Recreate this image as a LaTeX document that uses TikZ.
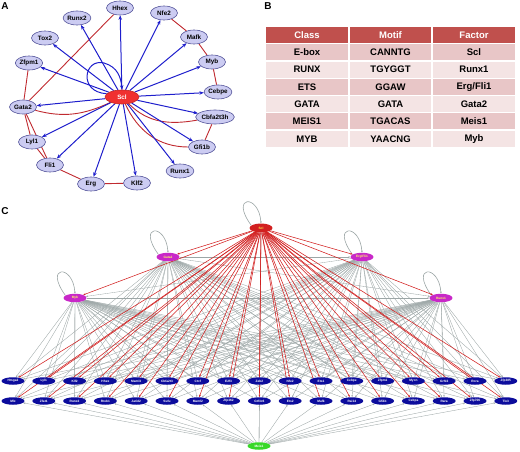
\documentclass[tikz,border=0pt]{standalone}
\usepackage{fontspec}
\setmainfont{Liberation Sans}
\usetikzlibrary{shapes.geometric,arrows.meta,backgrounds}

\definecolor{anodefill}{HTML}{CCCCF2}
\definecolor{anodeline}{HTML}{55559A}
\definecolor{ablue}{HTML}{1E1ECC}
\definecolor{ared}{HTML}{C02A30}
\definecolor{sclred}{HTML}{F03030}
\definecolor{headred}{HTML}{C0504D}
\definecolor{rowdark}{HTML}{E8C6C7}
\definecolor{rowlight}{HTML}{F4E4E4}
\definecolor{cblue}{HTML}{0C0C9C}
\definecolor{cmagenta}{HTML}{C828C8}
\definecolor{cgreen}{HTML}{38D828}
\definecolor{cred}{HTML}{D22020}
\definecolor{cgray}{HTML}{9CA6A6}

\tikzset{
  panel/.style={font=\fontsize{10}{12}\selectfont\bfseries, inner sep=0pt},
  anode/.style={ellipse, draw=anodeline, fill=anodefill, line width=0.6pt,
    minimum width=27pt, minimum height=14pt, inner sep=0.2pt,
    font=\fontsize{6.3}{7}\selectfont\bfseries},
  aedge/.style={ablue, line width=1pt, -{Stealth[length=4.5pt,width=3.5pt]}},
  apair/.style={ared, line width=0.9pt},
  cell/.style={minimum width=81.5pt, minimum height=16pt, inner sep=0pt,
    font=\fontsize{9.5}{11}\selectfont\bfseries},
  cnode/.style={ellipse, fill=cblue, text=white, minimum width=23pt,
    minimum height=7.5pt, inner sep=0pt, font=\fontsize{3.2}{4}\selectfont\bfseries},
  ctier/.style={cnode, fill=cmagenta, text=yellow!60, minimum height=8.5pt},
  cgrayedge/.style={cgray, line width=0.35pt, -{Stealth[length=2pt,width=1.6pt]}},
  crededge/.style={cred, line width=0.55pt, -{Stealth[length=2.4pt,width=1.8pt]}},
}

\begin{document}
\begin{tikzpicture}[x=1pt, y=-1pt]
  \useasboundingbox (0,0) rectangle (520,452);

  % panel labels
  \node[panel] (lab-a) at (5,6) {A};
  \node[panel] (lab-b) at (268,6) {B};
  \node[panel] (lab-c) at (5,211) {C};

  % ---- A: Scl network
  \node[anode, fill=sclred, draw=sclred!80!black, text=white, minimum width=34pt] (a-scl) at (122,97) {Scl};
  \node[anode] (a-hhex) at (120,8) {Hhex};
  \node[anode] (a-runx2) at (77,18) {Runx2};
  \node[anode] (a-nfe2) at (164,13) {Nfe2};
  \node[anode] (a-tox2) at (45,38) {Tox2};
  \node[anode] (a-mafk) at (194,37) {Mafk};
  \node[anode] (a-zfpm1) at (29,63) {Zfpm1};
  \node[anode] (a-myb) at (212,62) {Myb};
  \node[anode] (a-cebpe) at (218,92) {Cebpe};
  \node[anode] (a-gata2) at (23,107) {Gata2};
  \node[anode] (a-cbfa) at (215,117) {Cbfa2t3h};
  \node[anode] (a-lyl1) at (32,142) {Lyl1};
  \node[anode] (a-gfi1b) at (202,147) {Gfi1b};
  \node[anode] (a-fli1) at (50,165) {Fli1};
  \node[anode] (a-runx1) at (180,171) {Runx1};
  \node[anode] (a-erg) at (91,184) {Erg};
  \node[anode] (a-klf2) at (137,183) {Klf2};

  \begin{pgfonlayer}{background}
    \draw[apair] (a-hhex) -- (a-gata2);
    \draw[apair] (a-nfe2) -- (a-mafk);
    \draw[apair] (a-mafk) -- (a-myb);
    \draw[apair] (a-myb) -- (a-cebpe);
    \draw[apair] (a-zfpm1) -- (a-gata2);
    \draw[apair] (a-gata2) -- (a-lyl1);
    \draw[apair] (a-gata2) -- (a-fli1);
    \draw[apair] (a-lyl1) -- (a-fli1);
    \draw[apair] (a-fli1) -- (a-erg);
    \draw[apair] (a-erg) -- (a-klf2);
    \draw[apair] (a-cbfa) -- (a-gfi1b);
    \draw[apair] (a-gata2) to[out=-15, in=205] (a-scl);
    \draw[apair] (a-scl) to[out=-45, in=190] (a-cbfa);
    \draw[apair] (a-scl) to[out=-65, in=180] (a-gfi1b);
    \foreach \t in {a-hhex,a-runx2,a-nfe2,a-tox2,a-mafk,a-zfpm1,a-myb,a-cebpe,
        a-gata2,a-cbfa,a-lyl1,a-gfi1b,a-fli1,a-runx1,a-erg,a-klf2}
      \draw[aedge] (a-scl) -- (\t);
    \draw[aedge] (a-scl.168) .. controls (78,92) and (84,58) .. (104,63)
      .. controls (118,67) and (121,78) .. (a-scl.north);
  \end{pgfonlayer}

  % ---- B: motif table
  \foreach \c/\x/\lab in {1/307/Class,2/390.5/Motif,3/474/Factor}
    \node[cell, fill=headred, text=white, minimum height=15.5pt] (b-0-\c) at (\x,34.8) {\lab};
  \foreach \r/\y/\rc/\cl/\mo/\fa in {1/52.3/rowdark/E-box/CANNTG/Scl,
      2/69.6/rowlight/RUNX/TGYGGT/Runx1, 3/86.9/rowdark/ETS/GGAW/{Erg/Fli1},
      4/104.2/rowlight/GATA/GATA/Gata2, 5/121.5/rowdark/MEIS1/TGACAS/Meis1,
      6/138.8/rowlight/MYB/YAACNG/Myb} {
    \node[cell, fill=\rc] (b-\r-1) at (307,\y) {\cl};
    \node[cell, fill=\rc] (b-\r-2) at (390.5,\y) {\mo};
    \node[cell, fill=\rc] (b-\r-3) at (474,\y) {\fa};
  }

  % ---- C: hierarchy
  \node[cnode, fill=cred, text=yellow!70, minimum height=9pt] (c-scl) at (261,228) {Scl};
  \node[ctier] (c-gata2) at (168,257) {Gata2};
  \node[ctier] (c-ergfli1) at (362,257) {Erg/Fli1};
  \node[ctier] (c-myb) at (75,298) {Myb};
  \node[ctier] (c-runx1) at (441,298) {Runx1};
  \node[cnode, fill=cgreen] (c-meis1) at (259,446) {Meis1};

  \foreach \lab [count=\i] in {Hmga2,Lyl1,Klf2,Hhex,Maml3,Cbfa2t3,Ctcf,E2f3,Zeb2,
      Nfe2,Ets1,Cebpe,Zfpm1,Mycn,Grhl2,Rora,Zfp385}
    \node[cnode] (c-a\i) at ({13+30.8*(\i-1)},381) {\lab};
  \foreach \lab [count=\i] in {Mlx,Zfat1,Runx2,Rreb1,Jarid2,Sufu,Maml2,Zfp362,Gtf3c6,
      Ets2,Mafk,Rai14,Gfi1b,Cebpa,Rara,Zfp706,Tle3}
    \node[cnode] (c-b\i) at ({13+30.8*(\i-1)},401) {\lab};

  \begin{pgfonlayer}{background}
    \foreach \s in {c-gata2,c-ergfli1,c-myb,c-runx1}
      \foreach \i in {1,...,17} {
        \draw[cgrayedge] (\s) -- (c-a\i);
        \draw[cgrayedge] (\s) -- (c-b\i);
      }
    \foreach \i in {1,...,17}
      \draw[cgrayedge] (c-meis1) -- (c-b\i);
    \draw[cgrayedge] (c-meis1) -- (c-scl);
    \draw[cgrayedge] (c-gata2) -- (c-ergfli1);
    \draw[cgrayedge] (c-myb) -- (c-runx1);
    \draw[cgrayedge] (c-gata2) -- (c-runx1);
    \draw[cgrayedge] (c-ergfli1) -- (c-myb);
    % self loops
    \foreach \s in {c-scl,c-gata2,c-ergfli1,c-myb,c-runx1}
      \draw[cgrayedge, line width=0.6pt] (\s.165) .. controls +(-22,-30) and +(-2,-30) .. (\s.north);
    % Scl targets
    \foreach \t in {c-gata2,c-ergfli1,c-myb,c-runx1}
      \draw[crededge] (c-scl) -- (\t);
    \foreach \i in {1,...,17} {
      \draw[crededge] (c-scl) -- (c-a\i);
      \draw[crededge] (c-scl) -- (c-b\i);
    }
  \end{pgfonlayer}
\end{tikzpicture}
\end{document}
